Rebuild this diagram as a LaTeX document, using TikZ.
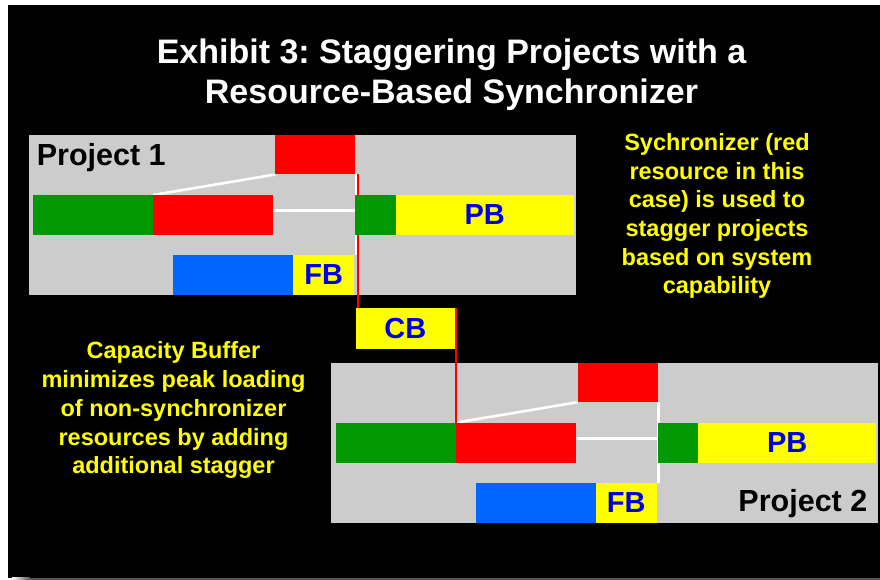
\documentclass[tikz,border=0pt]{standalone}
\usepackage{fontspec}
\setmainfont{Liberation Sans}
\usetikzlibrary{calc}
\frenchspacing

\definecolor{panelgray}{RGB}{204,204,204}
\definecolor{barred}{RGB}{255,0,0}
\definecolor{bargreen}{RGB}{0,153,0}
\definecolor{barblue}{RGB}{0,102,255}
\definecolor{bufyellow}{RGB}{255,255,0}
\definecolor{labelblue}{RGB}{0,0,230}
\definecolor{shadowgray}{RGB}{85,85,85}

\pgfdeclarelayer{backdrop}
\pgfdeclarelayer{links}
\pgfsetlayers{backdrop,links,main}

\tikzset{
  block/.style={anchor=north west, inner sep=0pt, outer sep=0pt,
    minimum height=40pt, draw=none},
  panel/.style={block, fill=panelgray, minimum width=547pt, minimum height=160pt},
  work/.style={block, fill=#1},
  buffer/.style={block, fill=bufyellow, text=labelblue,
    font=\fontsize{29}{29}\selectfont\bfseries},
  link/.style={white, line width=2.6pt},
  sync line/.style={barred, line width=2.3pt},
  heading/.style={anchor=base, inner sep=0pt, text=white,
    font=\fontsize{34}{40}\selectfont\bfseries},
  note/.style={text=bufyellow, align=center, inner sep=0pt,
    font=\fontsize{23.5}{28.7}\selectfont\bfseries},
  tag/.style={inner sep=0pt, anchor=base west,
    font=\fontsize{30.5}{30.5}\selectfont\bfseries},
  % one project: resource bars, buffers and the links between tasks
  project/.pic={
    \begin{pgfonlayer}{backdrop}
      \node[panel] (-panel) at (0,0) {};
    \end{pgfonlayer}
    \node[work=barred, minimum width=80pt, minimum height=39.5pt] (-sync) at (246.4,0) {};
    \node[work=bargreen, minimum width=120pt] (-start) at (4.1,60) {};
    \node[work=barred, minimum width=120.4pt] (-red) at (124.1,60) {};
    \node[work=bargreen, minimum width=40.3pt] (-finish) at (326.3,60) {};
    \node[buffer, minimum width=178.3pt] (-pb) at (366.6,60) {PB};
    \node[work=barblue, minimum width=120pt] (-feed) at (144.3,120) {};
    \node[buffer, minimum width=61pt] (-fb) at (264.3,120) {FB};
    \begin{pgfonlayer}{links}
      \draw[link] (-red.north west) -- (-sync.south west);
      \draw[link] ([yshift=4.4pt]-red.east) -- ([yshift=4.4pt]-finish.west);
      \draw[link] ([xshift=0.7pt]-sync.south east) -- ([xshift=0.7pt]-sync.south east |- -fb.north);
    \end{pgfonlayer}
  }
}

\begin{document}
\begin{tikzpicture}[x=1pt, y=-1pt]
  \useasboundingbox (0,0) rectangle (880,580);
  \begin{pgfonlayer}{backdrop}
    \fill[white] (0,0) rectangle (880,580);
    \fill[black] (8,5) rectangle (880,577.5);
    \shade[left color=white, right color=shadowgray] (12,577.5) rectangle (30,580);
    \fill[shadowgray] (30,577.5) rectangle (880,580);
  \end{pgfonlayer}

  % title
  \node[heading] (title1) at (451.5,63.5) {Exhibit 3: Staggering Projects with a};
  \node[heading] (title2) at (451.5,104) {Resource-Based Synchronizer};

  % the two staggered projects
  \pic (p1) at (28.9,135) {project};
  \pic (p2) at (331.4,362.7) {project};
  \node[tag] (p1-tag) at (36.6,166) {Project 1};
  \node[tag, anchor=base east] (p2-tag) at (867.5,511.7) {Project 2};

  % capacity buffer between the synchronizer tasks
  \node[buffer, minimum width=99.5pt, minimum height=41pt] (cb) at (355.5,308.3) {CB};
  \begin{pgfonlayer}{links}
    \draw[sync line] ([xshift=2.4pt]p1-sync.south east) -- ([xshift=2.4pt]p1-sync.south east |- cb.north);
    \draw[sync line] ([xshift=0.7pt]cb.north east) -- ([xshift=0.7pt]cb.north east |- p2-red.north);
  \end{pgfonlayer}

  % annotations
  \node[note] (sync-note) at (717,216) {Sychronizer (red\\resource in this\\case) is used to\\stagger projects\\based on system\\capability};
  \node[note] (cb-note) at (173.5,410.3) {Capacity Buffer\\minimizes peak loading\\of non-synchronizer\\resources by adding\\additional stagger};
\end{tikzpicture}
\end{document}
